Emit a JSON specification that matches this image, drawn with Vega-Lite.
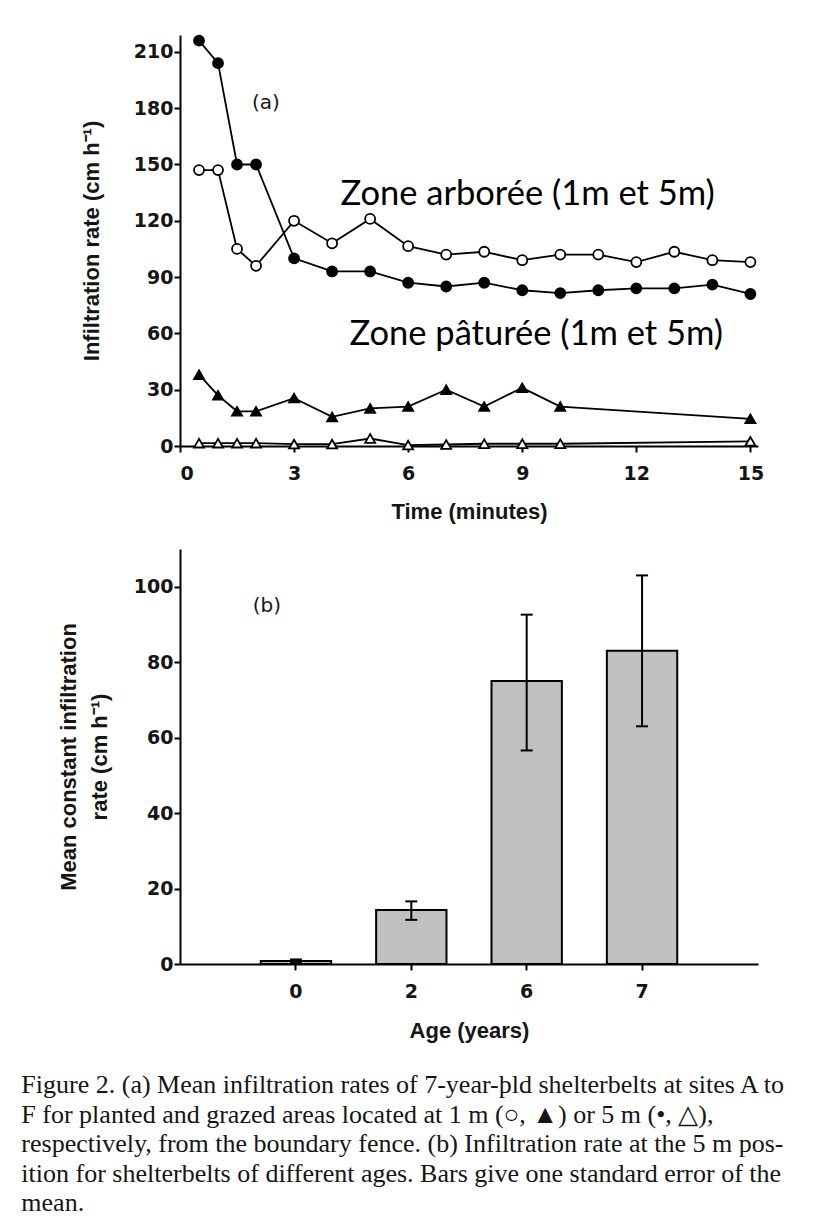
{
  "$schema": "https://vega.github.io/schema/vega-lite/v6.json",
  "background": "white",
  "padding": {"left": 21, "top": 32, "right": 10, "bottom": 10},
  "config": {
    "view": {"stroke": null},
    "axis": {
      "grid": false,
      "domainColor": "black", "domainWidth": 2,
      "tickColor": "black", "tickWidth": 2, "tickSize": 6,
      "labelFont": "DejaVu Sans", "labelFontSize": 19, "labelFontWeight": "bold", "labelColor": "#151515",
      "titleFont": "Liberation Sans", "titleFontSize": 22, "titleFontWeight": "bold", "titleColor": "#151515"
    }
  },
  "datasets": {
    "curves": [
      {"s": "A5", "t": 0.5, "v": 216}, {"s": "A5", "t": 1, "v": 204}, {"s": "A5", "t": 1.5, "v": 150}, {"s": "A5", "t": 2, "v": 150},
      {"s": "A5", "t": 3, "v": 100}, {"s": "A5", "t": 4, "v": 93}, {"s": "A5", "t": 5, "v": 93}, {"s": "A5", "t": 6, "v": 87},
      {"s": "A5", "t": 7, "v": 85}, {"s": "A5", "t": 8, "v": 87}, {"s": "A5", "t": 9, "v": 83}, {"s": "A5", "t": 10, "v": 81.5},
      {"s": "A5", "t": 11, "v": 83}, {"s": "A5", "t": 12, "v": 84}, {"s": "A5", "t": 13, "v": 84}, {"s": "A5", "t": 14, "v": 86},
      {"s": "A5", "t": 15, "v": 81},
      {"s": "A1", "t": 0.5, "v": 147}, {"s": "A1", "t": 1, "v": 147}, {"s": "A1", "t": 1.5, "v": 105}, {"s": "A1", "t": 2, "v": 96},
      {"s": "A1", "t": 3, "v": 120}, {"s": "A1", "t": 4, "v": 108}, {"s": "A1", "t": 5, "v": 121}, {"s": "A1", "t": 6, "v": 106.5},
      {"s": "A1", "t": 7, "v": 102}, {"s": "A1", "t": 8, "v": 103.5}, {"s": "A1", "t": 9, "v": 99}, {"s": "A1", "t": 10, "v": 102},
      {"s": "A1", "t": 11, "v": 102}, {"s": "A1", "t": 12, "v": 98}, {"s": "A1", "t": 13, "v": 103.5}, {"s": "A1", "t": 14, "v": 99},
      {"s": "A1", "t": 15, "v": 98},
      {"s": "G1", "t": 0.5, "v": 38}, {"s": "G1", "t": 1, "v": 27}, {"s": "G1", "t": 1.5, "v": 18.5}, {"s": "G1", "t": 2, "v": 18.5},
      {"s": "G1", "t": 3, "v": 25.5}, {"s": "G1", "t": 4, "v": 15.5}, {"s": "G1", "t": 5, "v": 20}, {"s": "G1", "t": 6, "v": 21},
      {"s": "G1", "t": 7, "v": 30}, {"s": "G1", "t": 8, "v": 21}, {"s": "G1", "t": 9, "v": 31}, {"s": "G1", "t": 10, "v": 21},
      {"s": "G1", "t": 15, "v": 14.5},
      {"s": "G5", "t": 0.5, "v": 1.5}, {"s": "G5", "t": 1, "v": 1.5}, {"s": "G5", "t": 1.5, "v": 1.5}, {"s": "G5", "t": 2, "v": 1.5},
      {"s": "G5", "t": 3, "v": 1}, {"s": "G5", "t": 4, "v": 1}, {"s": "G5", "t": 5, "v": 4}, {"s": "G5", "t": 6, "v": 0.5},
      {"s": "G5", "t": 7, "v": 0.8}, {"s": "G5", "t": 8, "v": 1.2}, {"s": "G5", "t": 9, "v": 1.2}, {"s": "G5", "t": 10, "v": 1.2},
      {"s": "G5", "t": 15, "v": 2.5}
    ],
    "zones": [
      {"label": "Zone arborée (1m et 5m)", "t": 9.14, "v": 134},
      {"label": "Zone pâturée (1m et 5m)", "t": 9.37, "v": 59}
    ],
    "bars": [
      {"age": 0, "mean": 0.8, "lo": 0.4, "hi": 1.2},
      {"age": 2, "mean": 14.3, "lo": 11.7, "hi": 16.6},
      {"age": 6, "mean": 75, "lo": 56.6, "hi": 92.6},
      {"age": 7, "mean": 83, "lo": 63, "hi": 103}
    ]
  },
  "title": {
    "text": [
      "Figure 2. (a) Mean infiltration rates of 7-year-þld shelterbelts at sites A to",
      "F for planted and grazed areas located at 1 m (○, ▲) or 5 m (•, △),",
      "respectively, from the boundary fence. (b) Infiltration rate at the 5 m pos-",
      "ition for shelterbelts of different ages. Bars give one standard error of the",
      "mean."
    ],
    "orient": "bottom",
    "anchor": "start",
    "font": "Liberation Serif",
    "fontSize": 26,
    "fontWeight": "normal",
    "color": "#151515",
    "lineHeight": 29.5,
    "offset": 31,
    "dx": -36
  },
  "spacing": 27,
  "vconcat": [
    {
      "width": 578,
      "height": 411,
      "layer": [
        {
          "data": {"name": "curves"},
          "mark": {"type": "line", "color": "black", "strokeWidth": 1.8},
          "encoding": {
            "x": {"field": "t", "type": "quantitative", "scale": {"domain": [0, 15.2], "nice": false},
                  "axis": {"values": [0, 3, 6, 9, 12, 15], "title": "Time (minutes)", "labelPadding": 12, "titlePadding": 18}},
            "y": {"field": "v", "type": "quantitative", "scale": {"domain": [0, 219], "nice": false},
                  "axis": {"values": [0, 30, 60, 90, 120, 150, 180, 210], "title": "Infiltration rate (cm h⁻¹)", "labelPadding": 1, "titlePadding": 30}},
            "detail": {"field": "s"}
          }
        },
        {
          "data": {"name": "curves"},
          "mark": {"type": "point", "filled": true, "stroke": "black", "strokeWidth": 1.8, "opacity": 1, "fillOpacity": 1},
          "encoding": {
            "x": {"field": "t", "type": "quantitative"},
            "y": {"field": "v", "type": "quantitative"},
            "shape": {"field": "s", "scale": {"domain": ["A5", "A1", "G1", "G5"], "range": ["circle", "circle", "triangle-up", "triangle-up"]}, "legend": null},
            "fill": {"field": "s", "scale": {"domain": ["A5", "A1", "G1", "G5"], "range": ["black", "white", "black", "white"]}, "legend": null},
            "size": {"field": "s", "scale": {"domain": ["A5", "A1", "G1", "G5"], "range": [100, 100, 140, 140]}, "legend": null}
          }
        },
        {
          "data": {"name": "zones"},
          "mark": {"type": "text", "font": "Lato", "fontSize": 34.5, "color": "black", "baseline": "middle"},
          "encoding": {
            "x": {"field": "t", "type": "quantitative"},
            "y": {"field": "v", "type": "quantitative"},
            "text": {"field": "label"}
          }
        },
        {
          "data": {"values": [{"label": "(a)", "t": 2.26, "v": 183}]},
          "mark": {"type": "text", "font": "DejaVu Sans", "fontSize": 20, "color": "#151515", "baseline": "middle"},
          "encoding": {
            "x": {"field": "t", "type": "quantitative"},
            "y": {"field": "v", "type": "quantitative"},
            "text": {"field": "label"}
          }
        }
      ]
    },
    {
      "width": 578,
      "height": 415,
      "data": {"name": "bars"},
      "encoding": {
        "x": {"field": "age", "type": "ordinal", "scale": {"paddingInner": 0.39, "paddingOuter": 0.7},
              "axis": {"labelAngle": 0, "title": "Age (years)", "labelPadding": 12, "titlePadding": 19}}
      },
      "layer": [
        {
          "mark": {"type": "bar", "fill": "#c0c0c0", "stroke": "black", "strokeWidth": 2},
          "encoding": {
            "y": {"field": "mean", "type": "quantitative", "scale": {"domain": [0, 110], "nice": false},
                  "axis": {"values": [0, 20, 40, 60, 80, 100], "title": ["Mean constant infiltration", "rate (cm h⁻¹)"], "titleLineHeight": 31, "labelPadding": 1, "titlePadding": 22}}
          }
        },
        {
          "mark": {"type": "rule", "color": "black", "strokeWidth": 2},
          "encoding": {"y": {"field": "lo", "type": "quantitative"}, "y2": {"field": "hi"}}
        },
        {
          "mark": {"type": "tick", "color": "black", "thickness": 2, "size": 12, "opacity": 1},
          "encoding": {"y": {"field": "lo", "type": "quantitative"}}
        },
        {
          "mark": {"type": "tick", "color": "black", "thickness": 2, "size": 12, "opacity": 1},
          "encoding": {"y": {"field": "hi", "type": "quantitative"}}
        },
        {
          "data": {"values": [{"label": "(b)", "age": 0, "v": 95}]},
          "mark": {"type": "text", "font": "DejaVu Sans", "fontSize": 20, "color": "#151515", "baseline": "middle", "dx": -29},
          "encoding": {
            "x": {"field": "age", "type": "ordinal"},
            "y": {"field": "v", "type": "quantitative"},
            "text": {"field": "label"}
          }
        }
      ]
    }
  ]
}
